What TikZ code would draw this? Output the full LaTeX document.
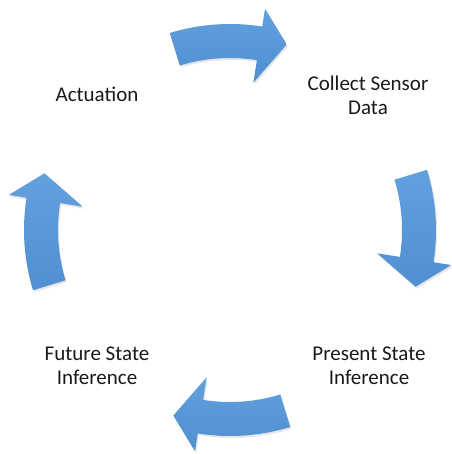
\documentclass[tikz,border=0pt]{standalone}
\usepackage{fontspec}
\setmainfont{Carlito}
\usetikzlibrary{shadows}
\definecolor{arrowtop}{RGB}{98,160,222}
\definecolor{arrowbot}{RGB}{80,143,209}

\begin{document}
\begin{tikzpicture}[x=0.5pt,y=0.5pt,
label_style/.style={align=center,font=\fontsize{10.5}{12}\selectfont,text=black!90},
arrow_style/.style={top color=arrowtop,bottom color=arrowbot,draw=none,
  drop shadow={shadow xshift=0.6pt,shadow yshift=-1pt,opacity=0.2}}]
\useasboundingbox (0,0) rectangle (451,454);

\node[label_style] (actuation) at (97,360) {Actuation};
\node[label_style] (collect) at (368,359) {Collect Sensor\\Data};
\node[label_style] (present) at (369,88) {Present State\\Inference};
\node[label_style] (future) at (97,88) {Future State\\Inference};

% curved block arrows going round clockwise
\begin{scope}[shift={(230,224)}]
\foreach \a in {89,-1,-91,179}{
 \path[arrow_style] (\a+18:172) arc[start angle=\a+18,end angle=\a-8,radius=172]
   -- (\a-8:149) -- (\a-16:194) -- (\a-8:224) -- (\a-8:206)
   arc[start angle=\a-8,end angle=\a+18,radius=206] -- cycle;
}
\end{scope}
\end{tikzpicture}
\end{document}
